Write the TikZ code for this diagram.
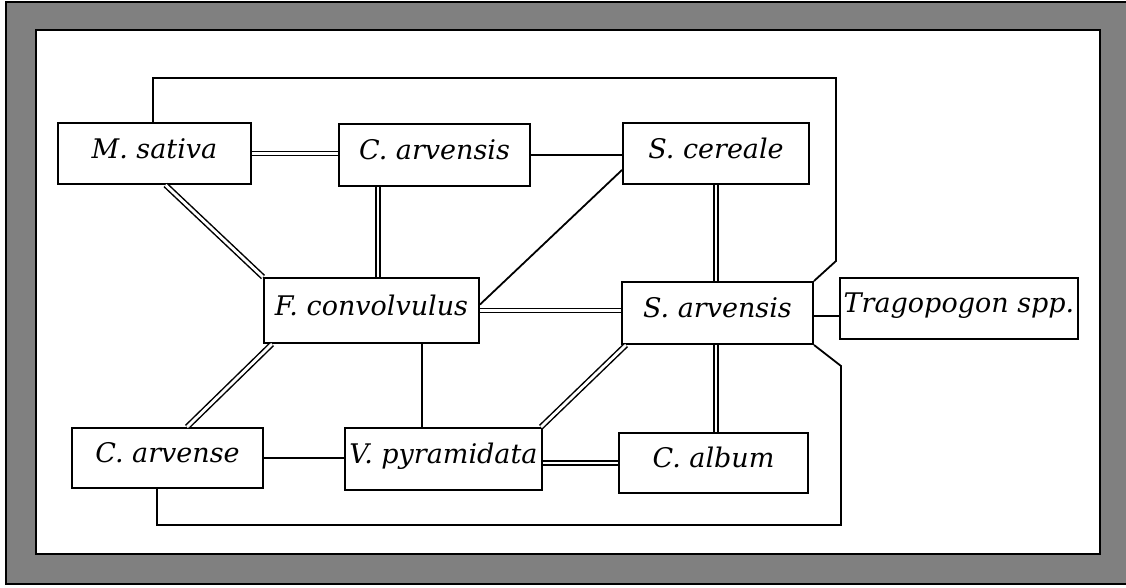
\documentclass[tikz,border=0pt]{standalone}
\usepackage{fontspec}
\newfontfamily\taxfont{DejaVu Serif}
\usetikzlibrary{calc}
\definecolor{framegray}{RGB}{128,128,128}
\tikzset{
  taxon/.style={draw, line width=1pt, inner sep=0pt, fill=white,
    font={\taxfont\itshape\fontsize{13.5}{15}\selectfont},
    text height=0.75em, text depth=0.25em},
  link/.style={line width=0.9pt},
  dlink/.style={double, double distance=1.4pt, line width=0.75pt},
}
\begin{document}
\begin{tikzpicture}[x=0.5pt,y=-0.5pt]
\useasboundingbox (0,0) rectangle (1126,588);
% frame
\fill[framegray] (6,2) rectangle (1126,584);
\draw[line width=0.6pt] (1126,2) -- (6,2) -- (6,584) -- (1126,584);
\filldraw[fill=white, line width=0.8pt] (36,30) rectangle (1100,554);

% taxa
\node[taxon, minimum width=96.5pt, minimum height=30.5pt] (msat)  at (154.5,153.5) {M. sativa};
\node[taxon, minimum width=95.5pt, minimum height=31pt]   (carvs) at (434.5,155)   {C. arvensis};
\node[taxon, minimum width=93pt,   minimum height=30.5pt] (scer)  at (716,153.5)   {S. cereale};
\node[taxon, minimum width=107.5pt,minimum height=32.5pt] (fconv) at (371.5,310.5) {F. convolvulus};
\node[taxon, minimum width=95.5pt, minimum height=31pt]   (sarv)  at (717.5,313)   {S. arvensis};
\node[taxon, minimum width=119pt,  minimum height=30.5pt, text depth=0.3em] (trag) at (959,308.5) {Tragopogon spp.};
\node[taxon, minimum width=95.5pt, minimum height=30pt]   (carve) at (167.5,458)   {C. arvense};
\node[taxon, minimum width=98.5pt, minimum height=31pt]   (vpyr)  at (443.5,459)   {V. pyramidata};
\node[taxon, minimum width=94.5pt, minimum height=30pt]   (calb)  at (713.5,463)   {C. album};

% outer loops
\coordinate (tr1) at (836,78);
\coordinate (tr2) at (836,261);
\coordinate (br1) at (841,525);
\coordinate (br2) at (841,366);
\draw[link] ($(msat.north)+(-1.5,0)$) |- (tr1) -- (tr2) -- (sarv.north east);
\draw[link] ($(carve.south)+(-10.5,0)$) |- (br1) -- (br2) -- (sarv.south east);

% single links
\draw[link] (carvs.east) -- (scer.west |- carvs.east);
\draw[link] ($(scer.west)+(0,16.5)$) -- ($(fconv.east)+(0,-6)$);
\draw[link] ($(sarv.east)+(0,3)$) -- (trag.west |- {$(sarv.east)+(0,3)$});
\draw[link] ($(fconv.south)+(50.5,0)$) -- (vpyr.north -| {$(fconv.south)+(50.5,0)$});
\draw[link] (carve.east) -- (vpyr.west |- carve.east);

% double links
\draw[dlink] (msat.east) -- (carvs.west |- msat.east);
\draw[dlink] ($(msat.south)+(11,0)$) -- (fconv.north west);
\draw[dlink] ($(fconv.north)+(6.5,0)$) -- (carvs.south -| {$(fconv.north)+(6.5,0)$});
\draw[dlink] (fconv.east) -- (sarv.west |- fconv.east);
\draw[dlink] (scer.south) -- (sarv.north -| scer.south);
\draw[dlink] ($(fconv.south west)+(9,0)$) -- ($(carve.north)+(19.5,0)$);
\draw[dlink] ($(vpyr.east)+(0,4)$) -- (calb.west |- {$(vpyr.east)+(0,4)$});
\draw[dlink] ($(vpyr.north east)+(-2,0)$) -- ($(sarv.south west)+(5,0)$);
\draw[dlink] ($(sarv.south)+(-1.5,0)$) -- (calb.north -| {$(sarv.south)+(-1.5,0)$});
\end{tikzpicture}
\end{document}
